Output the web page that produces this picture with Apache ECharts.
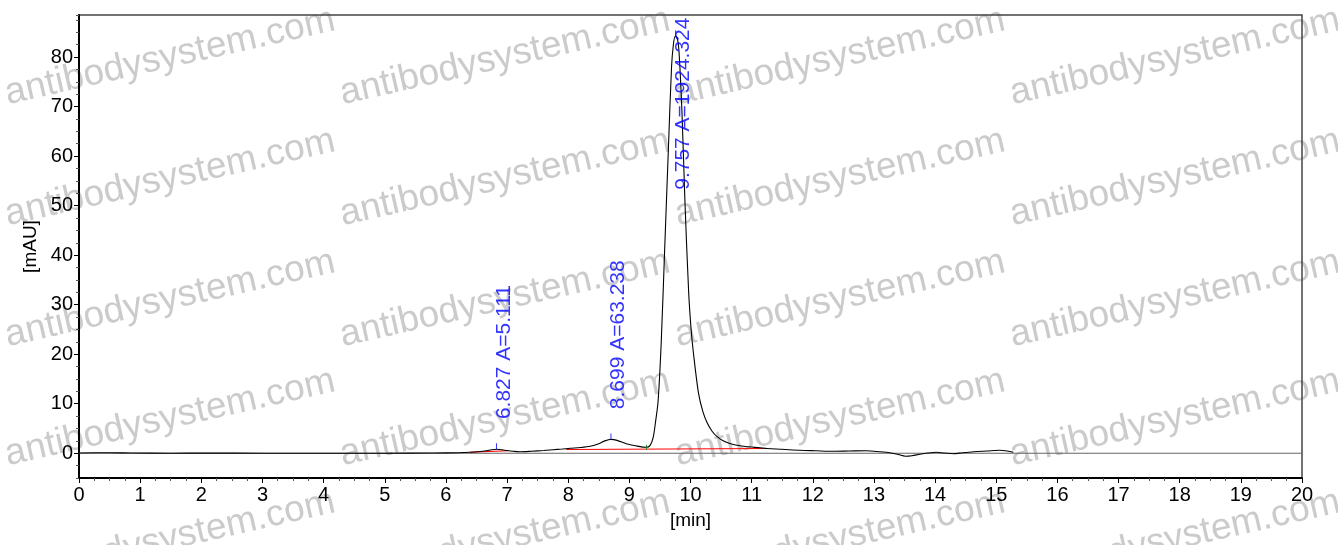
<!DOCTYPE html>
<html>
<head>
<meta charset="utf-8">
<script src="https://cdn.jsdelivr.net/npm/echarts@6/dist/echarts.min.js"></script>
<style>
html,body{margin:0;padding:0;background:#fff;}
#c{width:1338px;height:545px;}
</style>
</head>
<body>
<div id="c"></div>
<script>
// Chromatogram trace: retention time [min] and absorbance [mAU]
const traceTime = [0, 0.5, 0.85, 1.5, 2.1, 3, 4, 5, 5.8, 6.2, 6.4, 6.6, 6.75, 6.83, 6.92, 7.0, 7.1, 7.21, 7.4, 7.6, 7.75, 7.9, 8.03, 8.2, 8.36, 8.5, 8.6, 8.7, 8.8, 8.95, 9.1, 9.28, 9.34, 9.39, 9.43, 9.47, 9.52, 9.58, 9.64, 9.69, 9.72, 9.75, 9.78, 9.81, 9.86, 9.91, 9.97, 10.01, 10.05, 10.13, 10.2, 10.27, 10.35, 10.43, 10.55, 10.7, 10.9, 11.14, 11.25, 11.5, 11.79, 12.05, 12.33, 12.6, 12.88, 13.05, 13.2, 13.38, 13.52, 13.62, 13.75, 13.88, 14.02, 14.15, 14.3, 14.45, 14.63, 14.85, 15.06, 15.15, 15.28];
const traceValue = [0.05, 0.1, 0.05, 0, 0.05, 0, 0, 0, 0.05, 0.1, 0.2, 0.4, 0.7, 0.8, 0.7, 0.55, 0.4, 0.3, 0.4, 0.55, 0.7, 0.85, 1.0, 1.15, 1.4, 1.9, 2.5, 2.8, 2.6, 1.9, 1.5, 1.2, 1.6, 3.2, 6.5, 10.5, 22, 42, 62, 78, 82.5, 84.2, 84, 81.5, 69, 50.5, 32.5, 25, 20, 12.2, 8.5, 6.2, 4.5, 3.4, 2.4, 1.75, 1.35, 1.1, 0.95, 0.8, 0.6, 0.5, 0.4, 0.45, 0.5, 0.35, 0.2, -0.2, -0.6, -0.5, -0.2, 0.05, 0.2, 0.05, -0.1, 0.1, 0.3, 0.45, 0.6, 0.5, 0.2];

// Integration baselines (red)
const baseline1Time = [6.39, 7.02];
const baseline1Value = [0.2, 0.5];
const baseline2Time = [7.97, 11.19];
const baseline2Value = [0.75, 0.95];

// Peaks
const peakRT = [6.827, 8.699, 9.757];
const peakArea = ['5.111', '63.238', '1924.324'];
const peakApex = [0.8, 2.8, 84.2];
const labelStart = [6.8, 8.8, 53.1];

// Peak end marker (green)
const markerTime = [9.28];
const markerValue = [1.2];

// Zero line
const zeroTime = [0, 20];
const zeroValue = [0, 0];

// Axis ticks
const xTicks = [0,1,2,3,4,5,6,7,8,9,10,11,12,13,14,15,16,17,18,19,20];
const yTicks = [0,10,20,30,40,50,60,70,80];

const zip = (a, b) => a.map((v, i) => [v, b[i]]);
const FONT = '"Liberation Sans", Arial, sans-serif';

// watermark
const wmCols = [170, 505, 840, 1175];
const wmRows = [57, 178, 299, 418, 539];
const graphics = [];
wmCols.forEach(cx => wmRows.forEach(cy => {
  graphics.push({
    type: 'text', x: cx, y: cy, rotation: 0.223, z: -10, silent: true,
    style: { text: 'antibodysystem.com', fill: '#cbcbcb', font: '37px ' + FONT,
             align: 'center', verticalAlign: 'middle' }
  });
}));

const chart = echarts.init(document.getElementById('c'), null, {renderer: 'canvas'});
chart.setOption({
  animation: false,
  backgroundColor: '#fff',
  graphic: graphics,
  grid: { left: 79, right: 36, top: 15, bottom: 67, show: true, borderColor: '#444', borderWidth: 1.5, backgroundColor: 'transparent' },
  xAxis: [{
    type: 'value', min: 0, max: 20, interval: 1,
    name: '[min]', nameLocation: 'middle', nameGap: 33,
    nameTextStyle: { fontFamily: FONT, fontSize: 19, color: '#000' },
    axisLine: { show: true, onZero: false, lineStyle: { color: '#000', width: 2 } },
    axisTick: { show: true, length: 5, lineStyle: { color: '#000' } },
    minorTick: { show: true, splitNumber: 4, length: 3, lineStyle: { color: '#555' } },
    splitLine: { show: false },
    axisLabel: { fontFamily: FONT, fontSize: 20, color: '#000', margin: 7,
      customValues: xTicks }
  }],
  yAxis: [{
    type: 'value', min: -5, max: 88.5, interval: 2.5,
    name: '[mAU]', nameLocation: 'middle', nameGap: 37, nameRotate: 90,
    nameTextStyle: { fontFamily: FONT, fontSize: 19, color: '#000' },
    axisLine: { show: true, onZero: false, lineStyle: { color: '#000', width: 2 } },
    axisTick: { show: true, length: 3, lineStyle: { color: '#555' } },
    splitLine: { show: false },
    axisLabel: { fontFamily: FONT, fontSize: 20, color: '#000', margin: 6,
      customValues: yTicks }
  }, {
    type: 'value', min: -5, max: 88.5, position: 'left', offset: 0,
    axisLine: { show: false },
    axisTick: { show: true, length: 5, lineStyle: { color: '#000' }, customValues: yTicks },
    axisLabel: { show: false },
    splitLine: { show: false }
  }],
  series: [
    {
      type: 'line', name: 'zero', data: zip(zeroTime, zeroValue), showSymbol: false,
      lineStyle: { color: '#666', width: 1.2 }, silent: true, z: 1
    },
    {
      type: 'line', name: 'trace', data: zip(traceTime, traceValue), showSymbol: false,
      smooth: 0.3, lineStyle: { color: '#000', width: 1.1 }, silent: true, z: 3
    },
    {
      type: 'line', name: 'base1', data: zip(baseline1Time, baseline1Value), showSymbol: false,
      lineStyle: { color: '#ff0000', width: 1 }, silent: true, z: 2
    },
    {
      type: 'line', name: 'base2', data: zip(baseline2Time, baseline2Value), showSymbol: false,
      lineStyle: { color: '#ff0000', width: 1 }, silent: true, z: 2
    },
    {
      type: 'scatter', name: 'apexTicks', data: zip(peakRT, peakApex),
      symbol: 'rect', symbolSize: [1, 6], symbolOffset: [0, -3],
      itemStyle: { color: '#0000ff' }, silent: true, z: 4
    },
    {
      type: 'scatter', name: 'marker', data: zip(markerTime, markerValue),
      symbol: 'rect', symbolSize: [1, 5], symbolOffset: [0, 0],
      itemStyle: { color: '#008000' }, silent: true, z: 4
    },
    {
      type: 'scatter', name: 'labels',
      data: peakRT.map((rt, i) => ({ value: [rt, labelStart[i]], name: rt.toFixed(3) + ' A=' + peakArea[i] })),
      symbolSize: 1, itemStyle: { color: 'rgba(0,0,0,0)' }, silent: true, z: 5,
      label: {
        show: true, rotate: 90, position: [8, 0], align: 'left', verticalAlign: 'middle',
        formatter: p => p.name, color: '#0000ff', fontFamily: FONT, fontSize: 21
      }
    }
  ]
});
</script>
</body>
</html>
